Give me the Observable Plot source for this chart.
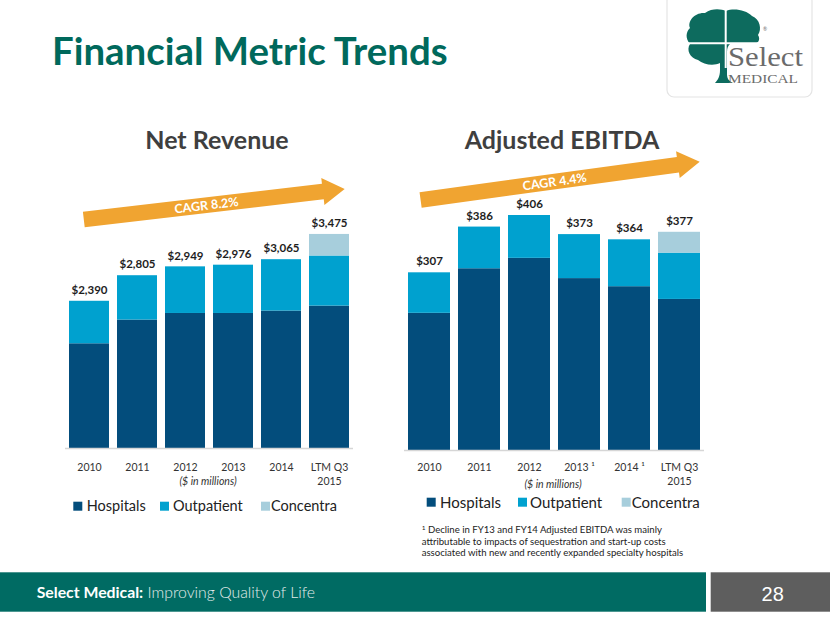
<!DOCTYPE html>
<html>
<head>
<meta charset="utf-8">
<script src="https://cdn.jsdelivr.net/npm/d3@7"></script>
<script src="https://cdn.jsdelivr.net/npm/@observablehq/plot@0.6"></script>
<style>
  html, body { margin: 0; padding: 0; background: #fff; }
  #page { position: relative; width: 830px; height: 623px; overflow: hidden; font-family: Lato, "Open Sans", sans-serif; background: #fff; }
  #bg { position: absolute; left: 0; top: 0; }
  .chart { position: absolute; }
</style>
</head>
<body>
<div id="page">
<svg id="bg" width="830" height="623" font-family="Lato, 'Open Sans', sans-serif">
  <!-- logo -->
  <g transform="translate(660,0)">
    <rect x="7" y="-6" width="145" height="103" rx="7" fill="#fff" stroke="#e4e4e4" stroke-width="1.2"/>
    <path fill="#0d6b5e" d="M30 28 C27 21,35 12,45 13 C52 8,61 9,66 11 C74 8,86 10,92 16 C100 19,102 29,98 35 C101 40,98 44,92 44 L70 44 C68 46,67 48,67 52 L67 74 C67 79,69 81,73 83 L55 83 C58 80,60 76,60 70 L60 63 C54 66,44 65,38 60 C30 58,26 50,30 44 C25 38,26 32,30 28 Z"/>
    <line x1="65.7" y1="10" x2="65.7" y2="68" stroke="#fff" stroke-width="2"/>
    <line x1="26" y1="43.3" x2="100" y2="43.3" stroke="#fff" stroke-width="2"/>
    <text x="68" y="66" font-family="'Liberation Serif', 'DejaVu Serif', serif" fill="#6b6b6b" font-size="27" textLength="75" lengthAdjust="spacingAndGlyphs">Select</text>
    <text x="68" y="83" font-family="'Liberation Serif', 'DejaVu Serif', serif" fill="#6b6b6b" font-size="12.5" textLength="70" lengthAdjust="spacingAndGlyphs">MEDICAL</text>
    <text x="103" y="31" font-size="5" fill="#6b6b6b">®</text>
  </g>
  <!-- title -->
  <text x="52" y="65" font-size="38.4" font-weight="bold" fill="#00695c">Financial Metric Trends</text>
  <text x="217" y="149" text-anchor="middle" font-size="25" font-weight="bold" fill="#3f3f3f">Net Revenue</text>
  <text x="562" y="149" text-anchor="middle" font-size="25" font-weight="bold" fill="#3f3f3f">Adjusted EBITDA</text>
  <text x="208" y="485" text-anchor="middle" font-size="10.5" font-style="italic" fill="#333">($ in millions)</text>
  <text x="553" y="487.5" text-anchor="middle" font-size="10.5" font-style="italic" fill="#333">($ in millions)</text>
  <g id="legendL"></g>
  <g id="legendR"></g>
  <g id="foot" font-size="9.6" fill="#222"></g>
  <!-- footer -->
  <rect x="0" y="572.3" width="706" height="39.4" fill="#006b63"/>
  <rect x="710.7" y="572.3" width="119.3" height="39.4" fill="#5e5e5e"/>
  <text x="36.7" y="598" font-size="15.8" font-weight="bold" fill="#fff">Select Medical:<tspan font-weight="300" fill="#e3ecea"> Improving Quality of Life</tspan></text>
  <text x="772.7" y="601" text-anchor="middle" font-family="'Liberation Sans', Arial, sans-serif" font-size="20" fill="#fff">28</text>
</svg>
</div>
<script>
// ---------------- data ----------------
const categories = ["2010", "2011", "2012", "2013", "2014", "LTM Q3\n2015"];
const revenueTickLabels = ["2010", "2011", "2012", "2013", "2014", "LTM Q3\n2015"];
const ebitdaTickLabels = ["2010", "2011", "2012", "2013 \u00b9", "2014 \u00b9", "LTM Q3\n2015"];
const series = ["Hospitals", "Outpatient", "Concentra"];
const seriesColors = ["#034d7c", "#00a1cf", "#a7cedc"];

const revenueTotals = [2390, 2805, 2949, 2976, 3065, 3475];
const revenueHospitals = [1700, 2085, 2192, 2192, 2231, 2312];
const revenueOutpatient = [690, 720, 757, 784, 834, 813];
const revenueConcentra = [0, 0, 0, 0, 0, 350];

const ebitdaTotals = [307, 386, 406, 373, 364, 377];
const ebitdaHospitals = [237, 314, 332, 297, 283, 261];
const ebitdaOutpatient = [70, 72, 74, 76, 81, 80];
const ebitdaConcentra = [0, 0, 0, 0, 0, 36];

const cagrLabels = ["CAGR 8.2%", "CAGR 4.4%"];
const revenueArrowY = [3709, 4205];   // arrow start/end level in $M
const ebitdaArrowY = [432, 498];

const footnoteLines = [
  "Decline in FY13 and FY14 Adjusted EBITDA was mainly",
  "attributable to impacts of sequestration and start-up costs",
  "associated with new and recently expanded specialty hospitals"
];

// ---------------- helpers ----------------
function longData(h, o, c) {
  const rows = [];
  [h, o, c].forEach((arr, si) => arr.forEach((v, i) => rows.push({cat: categories[i], series: series[si], value: v})));
  return rows;
}

function makeChart({h, o, c, totals, ticks, ymax, width, height, ml, mr, mt, mb, tickDy, labelDy}) {
  const fmt = d3.format(",");
  const tickMap = new Map(categories.map((k, i) => [k, ticks[i]]));
  return Plot.plot({
    width, height,
    marginLeft: ml, marginRight: mr, marginTop: mt, marginBottom: mb,
    style: {fontFamily: "Lato, 'Open Sans', sans-serif", fontSize: "10.5px", color: "#333", background: "transparent", overflow: "visible"},
    x: {domain: categories, paddingInner: 0.167, paddingOuter: 0.083, axis: null},
    y: {domain: [0, ymax], axis: null},
    color: {domain: series, range: seriesColors},
    marks: [
      Plot.barY(longData(h, o, c), {x: "cat", y: "value", fill: "series", order: null}),
      Plot.ruleY([0], {stroke: "#d6d6d6", strokeWidth: 1.5}),
      Plot.text(categories.map((k, i) => ({cat: k, total: totals[i]})), {
        x: "cat", y: "total", text: d => "$" + fmt(d.total), dy: labelDy,
        fontWeight: "bold", fontSize: 11.5, fill: "#1e1e1e"
      }),
      Plot.text(categories, {
        x: d => d, text: d => tickMap.get(d), frameAnchor: "bottom", dy: tickDy,
        lineAnchor: "top", lineHeight: 1.35, fill: "#333", fontSize: 10.5
      })
    ]
  });
}

function drawArrow(chart, yVals, startFrac, endInset, label, textFrac) {
  const sx = chart.scale("x"), sy = chart.scale("y");
  const bw = sx.bandwidth;
  const x0 = sx.apply(categories[0]) + startFrac * bw;
  const x1 = sx.apply(categories[categories.length - 1]) + bw - endInset;
  const y0 = sy.apply(yVals[0]), y1 = sy.apply(yVals[1]);
  const len = Math.hypot(x1 - x0, y1 - y0);
  const deg = Math.atan2(y1 - y0, x1 - x0) * 180 / Math.PI;
  const hl = 22, hw = 13.5, bt = 7.8;
  const g = d3.select(chart).append("g").attr("transform", `translate(${x0},${y0}) rotate(${deg})`);
  g.append("path").attr("fill", "#f0a431")
    .attr("d", `M0,${-bt} L${len - hl},${-bt} L${len - hl},${-hw} L${len},0 L${len - hl},${hw} L${len - hl},${bt} L0,${bt} Z`);
  g.append("text").attr("x", len * textFrac).attr("y", 0)
    .attr("text-anchor", "middle").attr("dy", "0.36em")
    .attr("fill", "#fff").attr("font-weight", "bold").attr("font-size", 12.5)
    .attr("font-family", "Lato, 'Open Sans', sans-serif")
    .text(label);
}

const page = document.getElementById("page");

const left = makeChart({
  h: revenueHospitals, o: revenueOutpatient, c: revenueConcentra, totals: revenueTotals,
  ticks: revenueTickLabels, ymax: 4513, width: 330, height: 330,
  ml: 25, mr: 17, mt: 10, mb: 42, tickDy: 12, labelDy: -11
});
left.classList.add("chart");
left.style.left = "40px"; left.style.top = "160px";
page.appendChild(left);
drawArrow(left, revenueArrowY, 0.37, 4.3, cagrLabels[0], 0.47);

const right = makeChart({
  h: ebitdaHospitals, o: ebitdaOutpatient, c: ebitdaConcentra, totals: ebitdaTotals,
  ticks: ebitdaTickLabels, ymax: 518.3, width: 340, height: 350,
  ml: 24, mr: 16, mt: 10, mb: 40, tickDy: 10, labelDy: -11
});
right.classList.add("chart");
right.style.left = "380px"; right.style.top = "140px";
page.appendChild(right);
drawArrow(right, ebitdaArrowY, 0.3, 0.3, cagrLabels[1], 0.48);

// legends
function legend(id, sq, tx, y, size, fs) {
  const g = d3.select("#" + id);
  series.forEach((s, i) => {
    g.append("rect").attr("x", sq[i]).attr("y", y - size / 2).attr("width", size).attr("height", size).attr("fill", seriesColors[i]);
    g.append("text").attr("x", tx[i]).attr("y", y).attr("dy", "0.36em").attr("font-size", fs).attr("fill", "#222").text(s);
  });
}
legend("legendL", [73.3, 160, 261], [86.7, 173, 271], 506.2, 9, 14.5);
legend("legendR", [426.7, 518, 621.7], [440, 530, 631.7], 502.2, 9, 15);

const foot = d3.select("#foot");
footnoteLines.forEach((line, i) => {
  const t = foot.append("text").attr("x", 421.7).attr("y", 533.3 + i * 11.4);
  if (i === 0) {
    t.append("tspan").attr("font-size", 6.5).attr("dy", -3).text("1");
    t.append("tspan").attr("dy", 3).text(" " + line);
  } else t.text(line);
});
</script>
</body>
</html>
